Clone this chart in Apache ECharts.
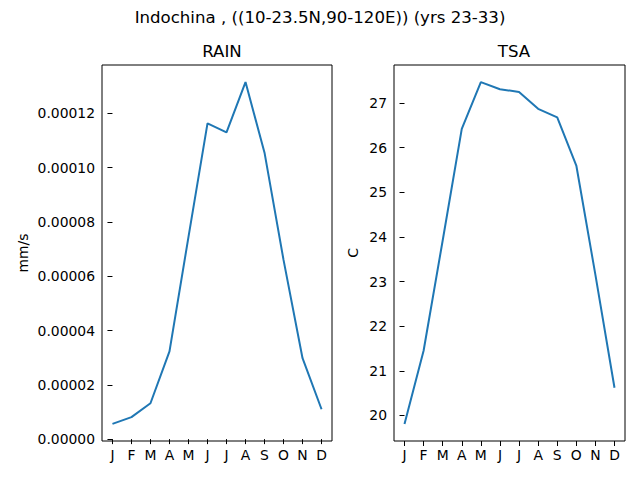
<!DOCTYPE html>
<html>
<head>
<meta charset="utf-8">
<script src="https://cdn.jsdelivr.net/npm/echarts@6/dist/echarts.min.js"></script>
<style>
  html, body { margin: 0; padding: 0; background: #fff; }
  #chart { width: 640px; height: 480px; }
</style>
</head>
<body>
<div id="chart"></div>
<script>
(function() {
  var months = ['J', 'F', 'M', 'A', 'M', 'J', 'J', 'A', 'S', 'O', 'N', 'D'];
  var rain = [0.0000056, 0.0000081, 0.0000132, 0.0000323, 0.0000745, 0.0001163,
              0.0001130, 0.0001315, 0.0001055, 0.0000660, 0.0000298, 0.0000110];
  var tsa = [19.81, 21.45, 23.92, 26.42, 27.47, 27.31, 27.25, 26.87, 26.68, 25.60, 23.15, 20.62];
  var rainTicks = [0, 0.00002, 0.00004, 0.00006, 0.00008, 0.0001, 0.00012];
  var tsaTicks = [20, 21, 22, 23, 24, 25, 26, 27];
  var monthTicks = [0, 1, 2, 3, 4, 5, 6, 7, 8, 9, 10, 11];

  var font = 'DejaVu Sans';
  var ink = '#000';
  var blue = '#1f77b4';

  function pairs(vals) {
    return vals.map(function(v, i) { return [i, v]; });
  }
  function pad(vals) {
    var lo = Math.min.apply(null, vals), hi = Math.max.apply(null, vals);
    var m = (hi - lo) * 0.05;
    return [lo - m, hi + m];
  }
  var rainExt = pad(rain);
  var tsaExt = pad(tsa);

  function xAxis(idx) {
    return {
      type: 'value', gridIndex: idx, min: -0.55, max: 11.55,
      axisLine: { show: false },
      splitLine: { show: false },
      axisTick: { length: 5, lineStyle: { color: ink }, customValues: monthTicks },
      axisLabel: {
        color: ink, fontFamily: font, fontSize: 13.9, margin: 7,
        customValues: monthTicks,
        formatter: function(v) { return months[Math.round(v)]; }
      }
    };
  }

  function yAxis(idx, ext, ticks, name, gap, fmt) {
    return {
      type: 'value', gridIndex: idx, min: ext[0], max: ext[1],
      name: name, nameLocation: 'middle', nameGap: gap, nameRotate: 90,
      nameTextStyle: { color: ink, fontFamily: font, fontSize: 13.9 },
      axisLine: { show: false },
      splitLine: { show: false },
      axisTick: { length: 5, lineStyle: { color: ink }, customValues: ticks },
      axisLabel: {
        color: ink, fontFamily: font, fontSize: 13.9, margin: 7,
        customValues: ticks, formatter: fmt
      }
    };
  }

  var chart = echarts.init(document.getElementById('chart'), null, { renderer: 'svg' });
  chart.setOption({
    animation: false,
    backgroundColor: '#fff',
    title: [
      { text: 'Indochina , ((10-23.5N,90-120E)) (yrs 23-33)', left: 'center', top: 4,
        textStyle: { color: ink, fontFamily: font, fontSize: 16.6, fontWeight: 'normal' } },
      { text: 'RAIN', left: 217, top: 38, textAlign: 'center',
        textStyle: { color: ink, fontFamily: font, fontSize: 16.6, fontWeight: 'normal' } },
      { text: 'TSA', left: 509, top: 38, textAlign: 'center',
        textStyle: { color: ink, fontFamily: font, fontSize: 16.6, fontWeight: 'normal' } }
    ],
    grid: [
      { left: 102, top: 65, width: 230, height: 376, show: true, borderColor: ink, borderWidth: 1, backgroundColor: 'transparent' },
      { left: 394, top: 65, width: 231, height: 376, show: true, borderColor: ink, borderWidth: 1, backgroundColor: 'transparent' }
    ],
    xAxis: [xAxis(0), xAxis(1)],
    yAxis: [
      yAxis(0, rainExt, rainTicks, 'mm/s', 72, function(v) { return v.toFixed(5); }),
      yAxis(1, tsaExt, tsaTicks, 'C', 34, function(v) { return String(v); })
    ],
    series: [
      { type: 'line', xAxisIndex: 0, yAxisIndex: 0, data: pairs(rain), showSymbol: false,
        lineStyle: { color: blue, width: 2 } },
      { type: 'line', xAxisIndex: 1, yAxisIndex: 1, data: pairs(tsa), showSymbol: false,
        lineStyle: { color: blue, width: 2 } }
    ]
  });
  window.addEventListener('resize', function() { chart.resize(); });
})();
</script>
</body>
</html>
